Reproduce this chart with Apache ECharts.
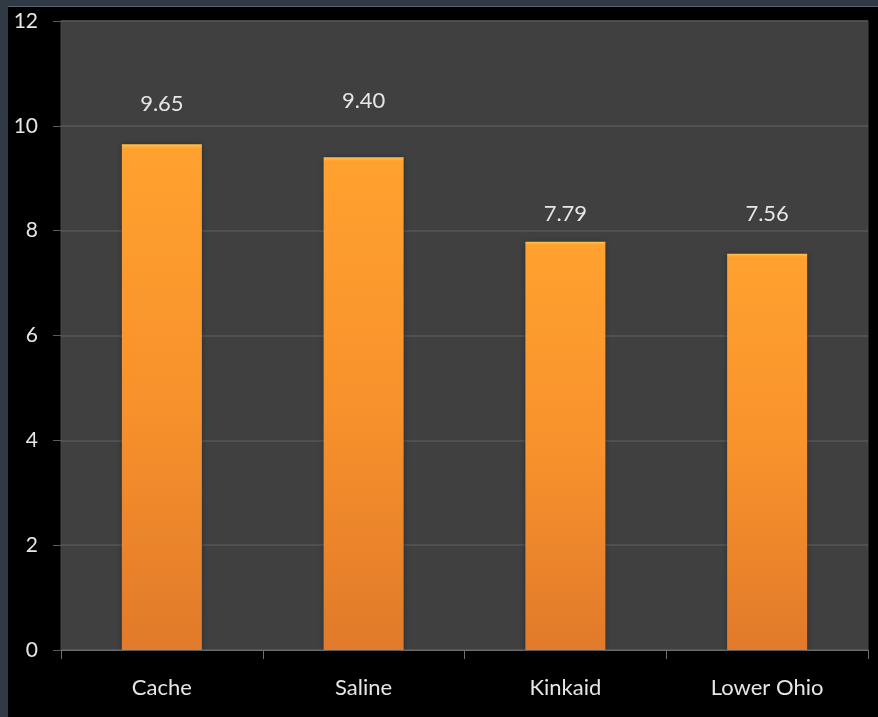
<!DOCTYPE html>
<html>
<head>
<meta charset="utf-8">
<script src="https://cdn.jsdelivr.net/npm/echarts@6/dist/echarts.min.js"></script>
<style>
  html, body { margin:0; padding:0; width:878px; height:717px; background:#2f3a44; overflow:hidden; }
  #frame { position:absolute; left:8px; top:6px; right:0; bottom:0; background:#000; border-top:1px solid #5a6470; }
  #chart { position:absolute; left:0; top:0; width:878px; height:717px; }
</style>
</head>
<body>
<div id="frame"></div>
<div id="chart"></div>
<script>
const categories = ["Cache", "Saline", "Kinkaid", "Lower Ohio"];
const values = [9.65, 9.40, 7.79, 7.56];
const yTicks = [0, 2, 4, 6, 8, 10, 12];

const labelDistances = [29, 45, 17, 29];

const chart = echarts.init(document.getElementById('chart'), null, { renderer: 'canvas' });
const font = 'Lato, "Open Sans", sans-serif';
const option = {
  backgroundColor: 'transparent',
  animation: false,
  grid: {
    left: 61, right: 10, top: 21, bottom: 67,
    show: true, backgroundColor: '#404040', borderColor: '#474747', borderWidth: 1
  },
  xAxis: {
    type: 'category',
    data: categories,
    axisLine: { show: true, lineStyle: { color: '#6e6e6e', width: 1 } },
    axisTick: { show: true, length: 9, alignWithLabel: false, lineStyle: { color: '#6e6e6e' } },
    axisLabel: { color: '#e6e6e6', fontSize: 22, fontFamily: font, margin: 27 }
  },
  yAxis: {
    type: 'value',
    min: yTicks[0], max: yTicks[yTicks.length - 1], interval: 2,
    axisLine: { show: false },
    axisTick: { show: true, length: 8, lineStyle: { color: '#5a5a5a' } },
    splitLine: { show: true, lineStyle: { color: '#575757', width: 1.5 } },
    axisLabel: { color: '#e6e6e6', fontSize: 21, fontFamily: font, margin: 23 }
  },
  series: [{
    type: 'bar',
    barWidth: 80,
    data: values.map((v, i) => ({
      value: v,
      label: { distance: labelDistances[i] }
    })),
    itemStyle: {
      color: new echarts.graphic.LinearGradient(0, 0, 0, 1, [
        { offset: 0, color: '#ffc24e' },
        { offset: 0.008, color: '#ffa12f' },
        { offset: 0.5, color: '#f8922c' },
        { offset: 1, color: '#e17a2a' }
      ]),
      shadowColor: 'rgba(20,30,40,0.55)',
      shadowBlur: 6
    },
    label: {
      show: true, position: 'top', color: '#e6e6e6', fontSize: 22, fontFamily: font,
      formatter: p => p.value.toFixed(2)
    }
  }]
};
chart.setOption(option);
</script>
</body>
</html>
